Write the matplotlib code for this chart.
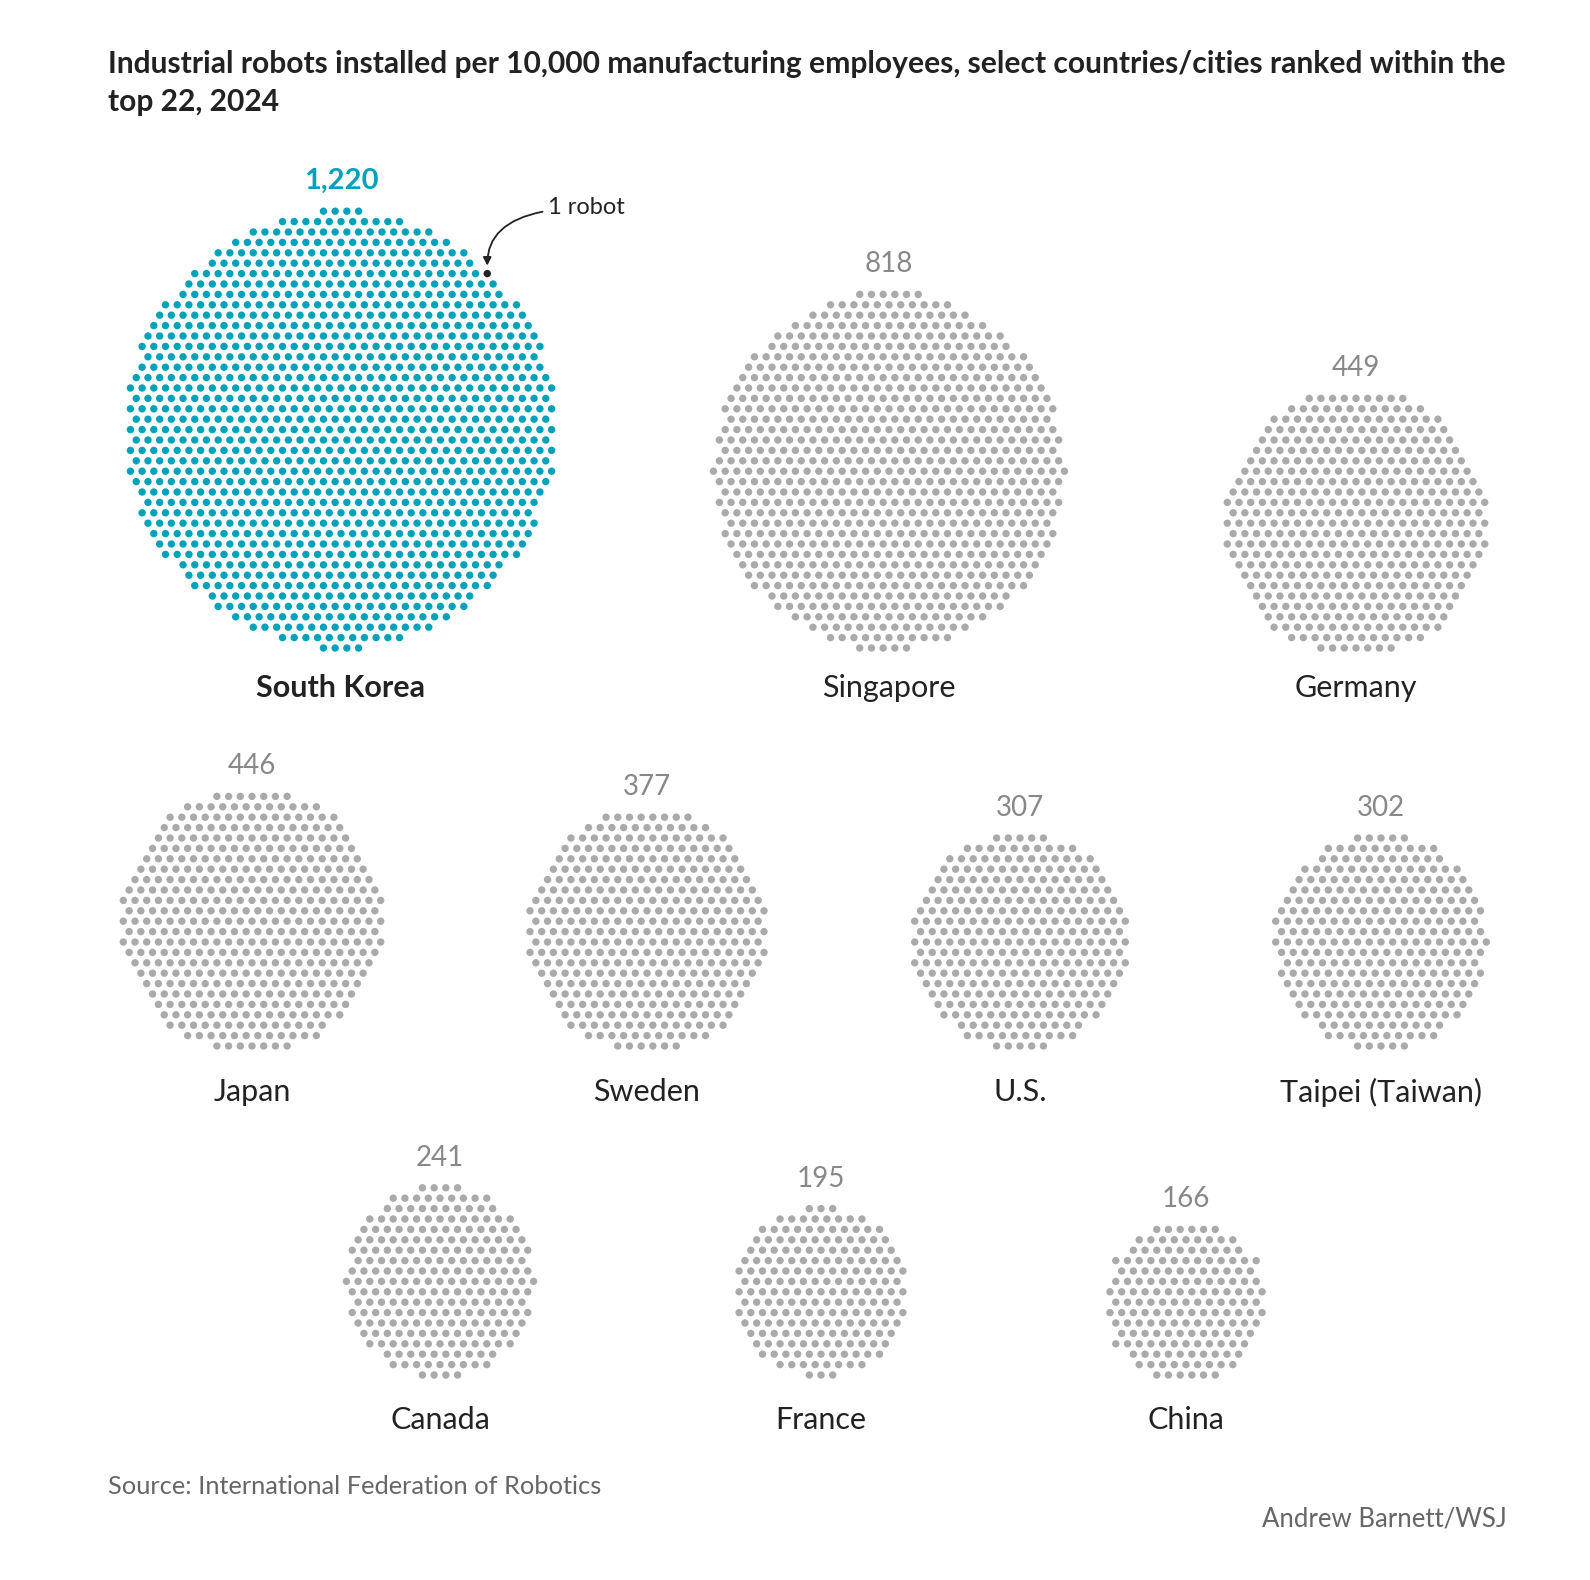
import numpy as np
import matplotlib
matplotlib.use("Agg")
import matplotlib.pyplot as plt

# robots per 10,000 manufacturing employees, 2024
names = ["South Korea", "Singapore", "Germany", "Japan", "Sweden", "U.S.",
         "Taipei (Taiwan)", "Canada", "France", "China"]
values = [1220, 818, 449, 446, 377, 307, 302, 241, 195, 166]
labels = ["1,220", "818", "449", "446", "377", "307", "302", "241", "195", "166"]

# layout (pixels)
cx = [341, 889, 1356, 252, 647, 1020, 1381, 440, 821, 1186]
row = [0, 0, 0, 1, 1, 1, 1, 2, 2, 2]
row_bottom = [648, 1046, 1375]
row_name_y = [688, 1092, 1420]

TEAL = "#00a2b9"
GREY = "#aaaaaa"
DX = 11.7
DY = 10.4
DOT = 7.4  # px diameter

plt.rcParams["font.family"] = ["Lato", "DejaVu Sans"]


def hex_dots(n):
    k = int(np.sqrt(n)) + 6
    pts = []
    for j in range(-k, k + 1):
        for i in range(-k, k + 1):
            x = i * DX + (j % 2) * DX / 2
            y = j * DY
            pts.append((x, y))
    pts = np.array(pts)
    d = np.round(np.hypot(pts[:, 0], pts[:, 1] / 1.02), 3)
    order = np.lexsort((pts[:, 0], pts[:, 1], d))
    return pts[order[:n]]


fig = plt.figure(figsize=(15.9, 15.8), dpi=100)
ax = fig.add_axes([0, 0, 1, 1])
ax.set_xlim(0, 1590)
ax.set_ylim(1580, 0)
ax.axis("off")

s = (DOT * 72 / 100) ** 2

for k, (name, v) in enumerate(zip(names, values)):
    p = hex_dots(v)
    p[:, 0] += cx[k] - (p[:, 0].max() + p[:, 0].min()) / 2
    p[:, 1] += row_bottom[row[k]] - p[:, 1].max()
    col = TEAL if k == 0 else GREY
    colors = [col] * len(p)
    if k == 0:
        # mark one robot on the top right edge
        edge = [i for i in range(len(p))
                if p[i, 0] >= p[np.isclose(p[:, 1], p[i, 1]), 0].max() - 0.1]
        target = np.array([496, 272])
        idx = min(edge, key=lambda i: np.hypot(*(p[i] - target)))
        colors[idx] = "#222222"
        robot = p[idx]
    ax.scatter(p[:, 0], p[:, 1], s=s, c=colors, linewidths=0)
    top = p[:, 1].min()
    ax.text(cx[k], top - 30, labels[k], ha="center", va="center",
            fontsize=21 if k == 0 else 20, color=TEAL if k == 0 else "#888888",
            fontweight="bold" if k == 0 else "normal")
    ax.text(cx[k], row_name_y[row[k]], name, ha="center", va="center",
            fontsize=22, color="#222222",
            fontweight="bold" if k == 0 else "normal")

ax.annotate("1 robot", xy=(robot[0], robot[1] - 8), xytext=(548, 208),
            ha="left", va="center", fontsize=17, color="#222222",
            arrowprops=dict(arrowstyle="-|>", color="#222222", lw=1.3,
                            shrinkA=2, shrinkB=0, mutation_scale=12,
                            connectionstyle="angle3,angleA=0,angleB=90"))

ax.text(108, 50, "Industrial robots installed per 10,000 manufacturing employees, select countries/cities ranked within the\ntop 22, 2024",
        ha="left", va="top", fontsize=21.6, fontweight="bold", color="#222222",
        linespacing=1.45)

ax.text(108, 1486, "Source: International Federation of Robotics", ha="left",
        va="center", fontsize=18.3, color="#666666")
ax.text(1507, 1519, "Andrew Barnett/WSJ", ha="right", va="center",
        fontsize=18.5, color="#666666")

fig.savefig("out.png", dpi=100, facecolor="white")
